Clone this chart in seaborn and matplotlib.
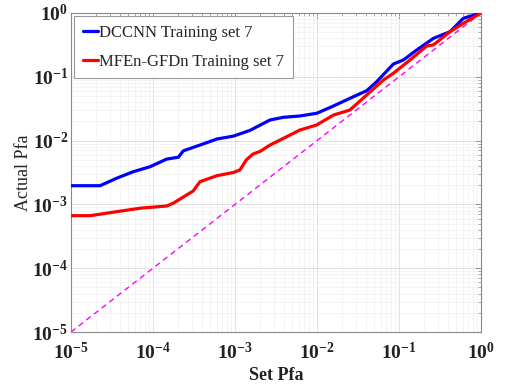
import numpy as np
import pandas as pd
import matplotlib
matplotlib.use("Agg")
import matplotlib.pyplot as plt
import seaborn as sns
from matplotlib.ticker import LogLocator, FixedLocator, NullFormatter
from matplotlib.lines import Line2D

# Data (log10 values)
dccnn_logx = [-5.0, -4.646, -4.443, -4.24, -4.037, -3.833, -3.69, -3.63, -3.427, -3.22, -3.02,
              -2.817, -2.573, -2.41, -2.207, -2.004, -1.80, -1.598, -1.394, -1.272, -1.069,
              -0.947, -0.784, -0.58, -0.378, -0.215, 0.0]
dccnn_logy = [-2.707, -2.707, -2.59, -2.487, -2.41, -2.29, -2.26, -2.16, -2.07, -1.975, -1.93,
              -1.84, -1.677, -1.635, -1.614, -1.572, -1.458, -1.337, -1.218, -1.077, -0.80,
              -0.737, -0.58, -0.397, -0.293, -0.083, 0.0]
mfen_logx = [-5.0, -4.768, -4.443, -4.159, -3.833, -3.752, -3.51, -3.427, -3.22, -3.02, -2.94,
             -2.86, -2.78, -2.695, -2.573, -2.41, -2.207, -2.004, -1.80, -1.598, -1.394,
             -1.19, -1.069, -0.866, -0.662, -0.58, -0.378, -0.215, 0.0]
mfen_logy = [-3.177, -3.177, -3.114, -3.06, -3.025, -2.98, -2.79, -2.644, -2.55, -2.50, -2.46,
             -2.30, -2.21, -2.17, -2.07, -1.965, -1.834, -1.755, -1.60, -1.52, -1.285,
             -1.05, -0.945, -0.737, -0.517, -0.50, -0.293, -0.162, 0.0]
labels = ["DCCNN Training set 7", "MFEn-GFDn Training set 7"]
colors = ["#0000ff", "#ff0000"]
ref_x = [1e-5, 1.0]

df = pd.concat([
    pd.DataFrame({"x": 10.0 ** np.array(dccnn_logx), "y": 10.0 ** np.array(dccnn_logy), "s": labels[0]}),
    pd.DataFrame({"x": 10.0 ** np.array(mfen_logx), "y": 10.0 ** np.array(mfen_logy), "s": labels[1]}),
])

sns.set_style("white")
plt.rcParams["font.family"] = ["Liberation Serif", "DejaVu Serif"]
plt.rcParams["mathtext.fontset"] = "custom"
plt.rcParams["mathtext.rm"] = "Liberation Serif"
plt.rcParams["mathtext.bf"] = "Liberation Serif:bold"

fig = plt.figure(figsize=(5.17, 3.89), dpi=100)
ax = fig.add_axes([0.1373, 0.1465, 0.7931, 0.8201])

ax.plot(ref_x, ref_x, color="#ff00ff", lw=1.0, ls=(0, (4, 3)), zorder=2)
sns.lineplot(data=df, x="x", y="y", hue="s", palette=colors, linewidth=2.3,
             ax=ax, legend=False, sort=False, zorder=3)

ax.set_xscale("log")
ax.set_yscale("log")
ax.set_xlim(1e-5, 1)
ax.set_ylim(1e-5, 1)

ax.xaxis.set_major_locator(FixedLocator([10.0 ** k for k in range(-5, 1)]))
ax.yaxis.set_major_locator(FixedLocator([10.0 ** k for k in range(-5, 1)]))
ax.xaxis.set_minor_locator(LogLocator(base=10, subs=np.arange(2, 10), numticks=20))
ax.yaxis.set_minor_locator(LogLocator(base=10, subs=np.arange(2, 10), numticks=20))
ax.xaxis.set_minor_formatter(NullFormatter())
ax.yaxis.set_minor_formatter(NullFormatter())
ax.set_xticklabels([r"$\mathbf{10^{%d}}$" % k for k in range(-5, 1)])
ax.set_yticklabels([r"$\mathbf{10^{%d}}$" % k for k in range(-5, 1)])

ax.grid(True, which="major", color="#dcdcdc", lw=0.6)
ax.grid(True, which="minor", color="#f0f0f0", lw=0.5)
ax.set_axisbelow(True)

for sp in ax.spines.values():
    sp.set_color("#888888")
    sp.set_linewidth(0.8)
ax.tick_params(which="both", direction="in", top=True, right=True, colors="#888888",
               labelcolor="#222222", labelsize=14)
ax.tick_params(which="major", length=4, width=0.6)
ax.tick_params(which="minor", length=2.5, width=0.5)
ax.tick_params(axis="x", pad=7)
ax.tick_params(axis="y", pad=2)

ax.set_xlabel("Set Pfa", fontsize=13, fontweight="bold", color="#222222", labelpad=3)
ax.set_ylabel("Actual Pfa", fontsize=13, color="#222222", labelpad=0)

handles = [Line2D([], [], color=c, lw=2.3) for c in colors]
leg = ax.legend(handles, labels, loc="upper left", fontsize=12, frameon=True, fancybox=False,
                handlelength=0.9, handletextpad=0.1, borderpad=0.5, labelspacing=0.8,
                borderaxespad=0.2, edgecolor="#999999", framealpha=1)
leg.get_frame().set_linewidth(0.8)

fig.savefig("out.png", dpi=100)
